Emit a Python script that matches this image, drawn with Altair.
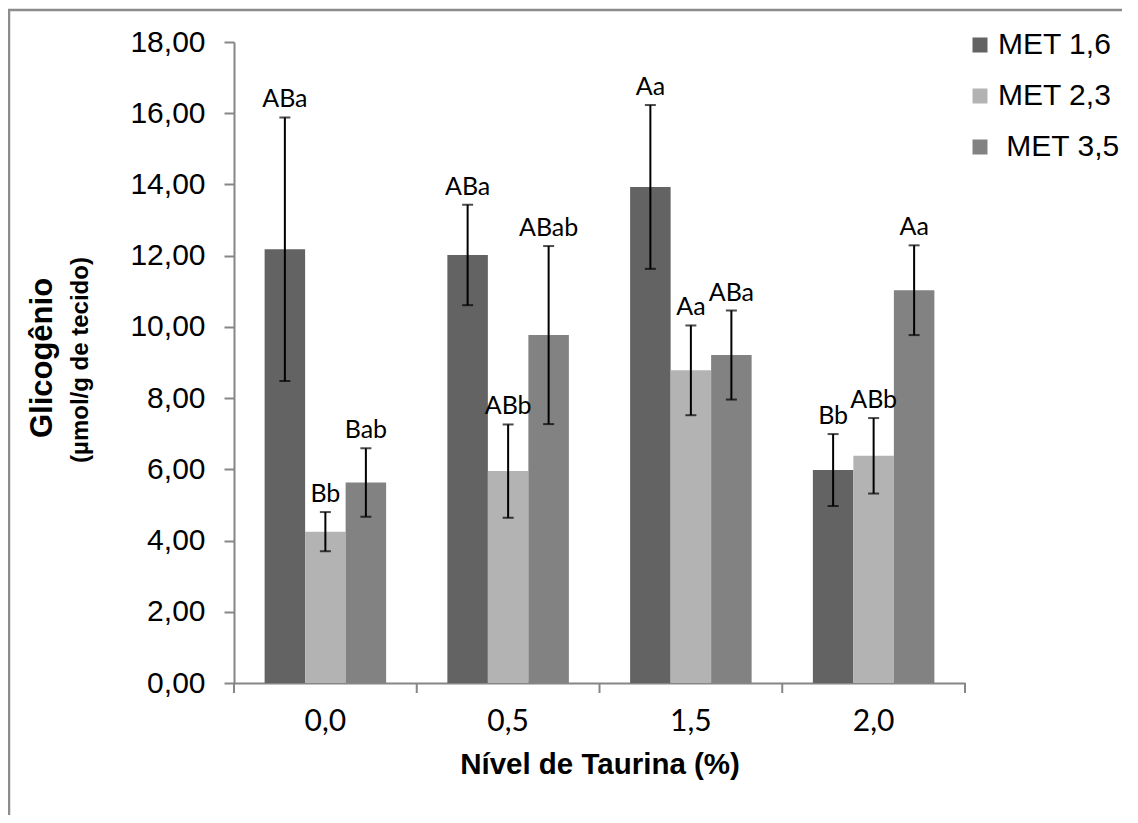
import altair as alt
import pandas as pd

groups = ["0,0", "0,5", "1,5", "2,0"]
series = ["MET 1,6", "MET 2,3", "\u200b\u00a0MET 3,5"]
colors = ["#636363", "#b3b3b3", "#828282"]

met16 = [12.18, 12.02, 13.93, 5.98]
met23 = [4.25, 5.95, 8.78, 6.38]
met35 = [5.63, 9.77, 9.21, 11.03]
err16 = [3.70, 1.41, 2.30, 1.01]
err23 = [0.55, 1.31, 1.26, 1.06]
err35 = [0.96, 2.50, 1.25, 1.26]
let16 = ["ABa", "ABa", "Aa", "Bb"]
let23 = ["Bb", "ABb", "Aa", "ABb"]
let35 = ["Bab", "ABab", "ABa", "Aa"]

y_title = "Glicogênio"
y_subtitle = "(µmol/g de tecido)"
x_title = "Nível de Taurina (%)"

rows = []
for s, vals, errs, lets in zip(series, [met16, met23, met35], [err16, err23, err35], [let16, let23, let35]):
    for g, v, e, l in zip(groups, vals, errs, lets):
        rows.append({"grupo": g, "serie": s, "valor": v, "lo": v - e, "hi": v + e, "letra": l})
df = pd.DataFrame(rows)

W, H = 731, 641

x_enc = alt.X("grupo:N", sort=groups,
              scale=alt.Scale(paddingInner=0, paddingOuter=0),
              axis=alt.Axis(title=x_title, labelFont="Lato", labelFontSize=30, labelColor="black",
                            labelAngle=0, labelBaseline="alphabetic", labelPadding=47,
                            ticks=False, tickSize=0, domainColor="#868686", domainWidth=2,
                            titleFont="Liberation Sans", titleFontSize=29.5, titleFontWeight="bold",
                            titleColor="black", titleBaseline="alphabetic", titleY=90, titleX=W / 2))
xo_enc = alt.XOffset("serie:N", sort=series, scale=alt.Scale(paddingInner=0, paddingOuter=0.756))

base = alt.Chart(df)

bars = base.mark_bar().encode(
    x=x_enc,
    xOffset=xo_enc,
    y=alt.Y("valor:Q", scale=alt.Scale(domain=[0, 18], nice=False),
            axis=alt.Axis(title=None, values=list(range(0, 19, 2)), grid=False,
                          labelExpr="replace(format(datum.value, '.2f'), '.', ',')",
                          labelFont="Liberation Sans", labelFontSize=30, labelColor="black",
                          labelPadding=19, tickSize=10, tickColor="#868686", tickWidth=2,
                          domainColor="#868686", domainWidth=2)),
    color=alt.Color("serie:N", sort=series,
                    scale=alt.Scale(domain=series, range=colors),
                    legend=alt.Legend(title=None, orient="none", legendX=731, legendY=-12,
                                      symbolType="square", symbolSize=225, symbolStrokeWidth=0,
                                      labelFont="Liberation Sans", labelFontSize=30, labelColor="black",
                                      labelOffset=3, rowPadding=21, padding=0)),
)

err_rule = base.mark_rule(color="black", strokeWidth=2).encode(
    x=alt.X("grupo:N", sort=groups), xOffset=xo_enc, y="lo:Q", y2="hi:Q")
cap_hi = base.mark_tick(color="black", thickness=2, size=11).encode(
    x=alt.X("grupo:N", sort=groups), xOffset=xo_enc, y="hi:Q")
cap_lo = base.mark_tick(color="black", thickness=2, size=11).encode(
    x=alt.X("grupo:N", sort=groups), xOffset=xo_enc, y="lo:Q")
letters = base.mark_text(font="Lato", fontSize=25, color="black", baseline="alphabetic", dy=-10).encode(
    x=alt.X("grupo:N", sort=groups), xOffset=xo_enc, y="hi:Q", text="letra:N")

tick_df = pd.DataFrame({"grupo": groups})
xticks = alt.Chart(tick_df).mark_rule(color="#868686", strokeWidth=2).encode(
    x=alt.X("grupo:N", sort=groups, bandPosition=0), y=alt.value(H), y2=alt.value(H + 10))
xtick_end = alt.Chart(tick_df.head(1)).mark_rule(color="#868686", strokeWidth=2).encode(
    x=alt.value(W), y=alt.value(H), y2=alt.value(H + 10))

t1 = alt.Chart(pd.DataFrame({"t": [y_title]})).mark_text(
    font="Liberation Sans", fontSize=31, fontWeight="bold", angle=270, align="center",
    baseline="alphabetic", color="black").encode(text="t:N", x=alt.value(-182), y=alt.value(316))
t2 = alt.Chart(pd.DataFrame({"t": [y_subtitle]})).mark_text(
    font="Liberation Sans", fontSize=24, fontWeight="bold", angle=270, align="center",
    baseline="alphabetic", color="black").encode(text="t:N", x=alt.value(-146), y=alt.value(318))

frame_top = alt.Chart(tick_df.head(1)).mark_rule(color="#8c8c8c", strokeWidth=2.5).encode(
    x=alt.value(-226), x2=alt.value(888), y=alt.value(-32))
frame_left = alt.Chart(tick_df.head(1)).mark_rule(color="#8c8c8c", strokeWidth=2.5).encode(
    x=alt.value(-225), y=alt.value(-32), y2=alt.value(773))

chart = alt.layer(bars, err_rule, cap_hi, cap_lo, letters, xticks, xtick_end, t1, t2,
                  frame_top, frame_left).properties(
    width=W, height=H,
    background="white",
    padding={"left": 226, "top": 34, "right": 165, "bottom": 132},
    autosize=alt.AutoSizeParams(type="none"),
).configure_view(stroke=None)

chart.save("out.html", embed_options={"renderer": "svg", "actions": False})
